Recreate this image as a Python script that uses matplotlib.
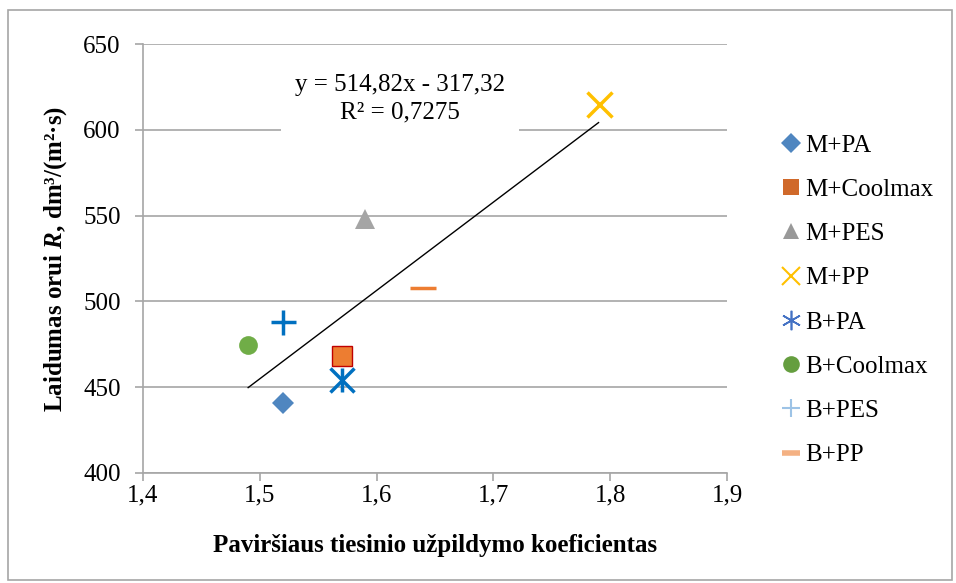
import matplotlib.pyplot as plt
from matplotlib.patches import Rectangle
from matplotlib.lines import Line2D

plt.rcParams['font.family'] = ['Liberation Serif', 'DejaVu Serif']
plt.rcParams['mathtext.fontset'] = 'custom'
plt.rcParams['mathtext.rm'] = 'Liberation Serif'
plt.rcParams['mathtext.it'] = 'Liberation Serif:italic'
plt.rcParams['mathtext.bf'] = 'Liberation Serif:bold'
plt.rcParams['mathtext.bfit'] = 'Liberation Serif:bold:italic'

# duomenys
names = ['M+PA', 'M+Coolmax', 'M+PES', 'M+PP', 'B+PA', 'B+Coolmax', 'B+PES', 'B+PP']
x_vals = [1.52, 1.57, 1.59, 1.79, 1.57, 1.49, 1.52, 1.64]
y_vals = [441, 468, 548, 615, 454, 474.5, 488, 508]
slope, intercept = 514.82, -317.32
x_ticks = [1.4, 1.5, 1.6, 1.7, 1.8, 1.9]
y_ticks = [400, 450, 500, 550, 600, 650]

# stiliai: marker, spalva, dydis, spalva legendoje
styles = [
    ('D', '#4F86C0', 11, '#4F86C0'),
    ('s', '#ED7D31', 14, '#D0692A'),
    ('^', '#A5A5A5', 14, '#999999'),
    ('x', '#FFC000', 18, '#FFC000'),
    ('x', '#0070C0', 17, '#4472C4'),
    ('o', '#70AD47', 13.5, '#659E3F'),
    ('+', '#0070C0', 18, '#9DC3E6'),
    ('_', '#ED7D31', 19, '#F4B183'),
]
FS = 18

fig = plt.figure(figsize=(9.56, 5.83), dpi=100)
ax = fig.add_axes([0.1496, 0.1887, 0.6109, 0.7358])

for i, (n, xv, yv) in enumerate(zip(names, x_vals, y_vals)):
    m, c, s, lc = styles[i]
    if m in ('x', '+', '_'):
        ax.plot(xv, yv, marker=m, color=c, markersize=s, markeredgewidth=2.5, linestyle='none', zorder=3)
        if i == 4:  # asterisk
            ax.plot(xv, yv, marker='|', color=c, markersize=s, markeredgewidth=2.5, linestyle='none', zorder=3)
    elif m == 's':
        ax.plot(xv, yv, marker=m, color=c, markersize=s, markeredgecolor='#C00000', markeredgewidth=1, linestyle='none', zorder=3)
    else:
        ax.plot(xv, yv, marker=m, color=c, markersize=s, markeredgewidth=0, linestyle='none', zorder=3)

# tendencijos linija
x0, x1 = min(x_vals), max(x_vals)
ax.plot([x0, x1], [slope * x0 + intercept, slope * x1 + intercept], color='black', linewidth=1, zorder=2)
ax.text(1.62, 618, 'y = 514,82x - 317,32\nR² = 0,7275', ha='center', va='center', fontsize=FS,
        linespacing=1.35, zorder=4,
        bbox=dict(facecolor='white', edgecolor='none', pad=10))

ax.set_xlim(1.4, 1.9)
ax.set_ylim(400, 650)
ax.set_xticks(x_ticks)
ax.set_yticks(y_ticks)
ax.set_xticklabels([f'{t:.1f}'.replace('.', ',') for t in x_ticks], fontsize=FS)
ax.set_yticklabels([str(t) for t in y_ticks], fontsize=FS)
ax.grid(axis='y', color='#A6A6A6', linewidth=1.2)
ax.set_axisbelow(True)
for s in ['top', 'right']:
    ax.spines[s].set_visible(False)
for s in ['left', 'bottom']:
    ax.spines[s].set_color('#A6A6A6')
    ax.spines[s].set_linewidth(1.2)
ax.tick_params(axis='both', direction='out', length=6, color='#A6A6A6', width=1.2)
ax.tick_params(axis='y', pad=10)
ax.tick_params(axis='x', pad=2)

ax.set_xlabel('Paviršiaus tiesinio užpildymo koeficientas', fontsize=FS, fontweight='bold', labelpad=20)
ax.set_ylabel(r'Laidumas orui $\mathbfit{R}$, dm³/(m²·s)', fontsize=FS, fontweight='bold', labelpad=10)

# legenda
handles = []
for i, n in enumerate(names):
    m, c, s, lc = styles[i]
    if i == 4:
        h = Line2D([], [], marker=(6, 2, 0), color=lc, markersize=14, markeredgewidth=1.2, linestyle='none')
    elif m in ('x', '+', '_'):
        h = Line2D([], [], marker=m, color=lc, markersize=13, markeredgewidth=1.5 if m != '_' else 4, linestyle='none')
    else:
        h = Line2D([], [], marker=m, color=lc, markersize=12 if m != 'D' else 10, markeredgewidth=0, linestyle='none')
    handles.append(h)
fig.legend(handles, names, loc='center left', bbox_to_anchor=(0.791, 0.485), frameon=False, fontsize=FS,
           handletextpad=0.05, labelspacing=0.87, handlelength=1.0)

fig.patches.append(Rectangle((0.008, 0.006), 0.988, 0.976, transform=fig.transFigure, fill=False,
                             edgecolor='#A6A6A6', linewidth=1.2))

fig.savefig('out.png', dpi=100)
